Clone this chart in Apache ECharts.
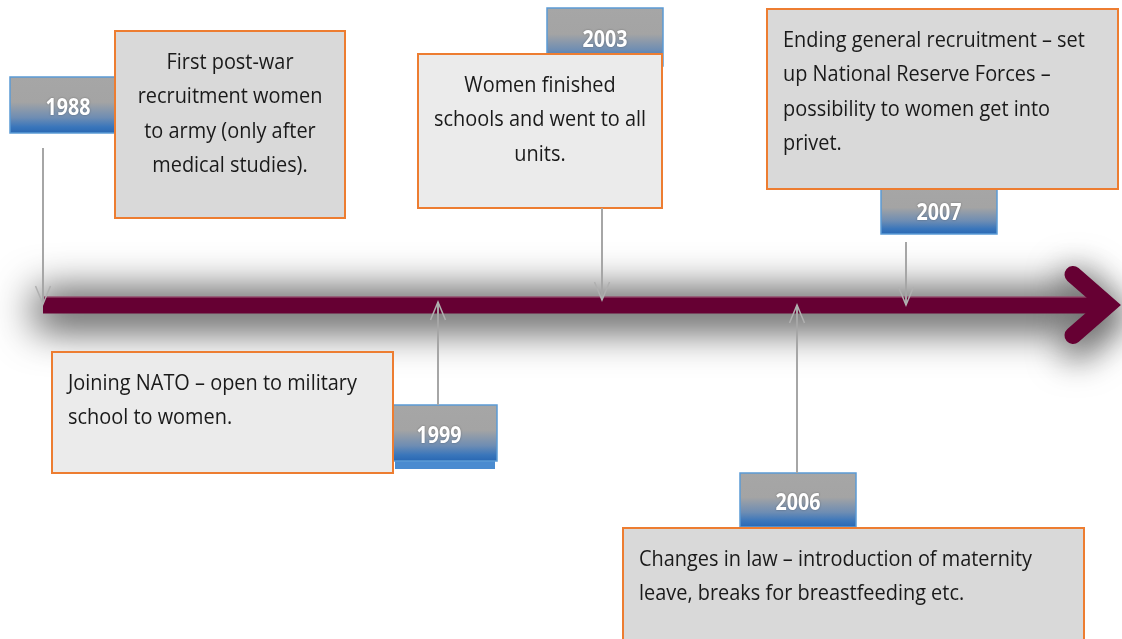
<!DOCTYPE html>
<html><head><meta charset="utf-8">
<script src="https://cdn.jsdelivr.net/npm/echarts@6/dist/echarts.min.js"></script>
<style>html,body{margin:0;padding:0;background:#fff}#main{width:1122px;height:639px}</style>
</head><body><div id="main"></div>
<script>
// ---- content ----
const years = ['1988', '1999', '2003', '2006', '2007'];
const events = [
  'First post-war\nrecruitment women\nto army (only after\nmedical studies).',
  'Joining NATO – open to military\nschool to women.',
  'Women finished\nschools and went to all\nunits.',
  'Changes in law – introduction of maternity\nleave, breaks for breastfeeding etc.',
  'Ending general recruitment – set\nup National Reserve Forces –\npossibility to women get into\nprivet.'
];
// ---- layout (canvas units, kept separate from content) ----
const markX = [43, 438, 602, 797, 906];
const yearBox = [[10, 77, 116, 56], [381, 405, 116, 56], [547, 8, 116, 58], [740, 473, 116, 54], [881, 186, 116, 48]];
const eventBox = [[115, 31, 230, 187], [52, 352, 341, 121], [418, 54, 244, 154], [623, 528, 461, 125], [767, 9, 351, 180]];
const eventAlign = ['center', 'left', 'center', 'left', 'left'];
const eventFill = ['#d9d9d9', '#ebebeb', '#ebebeb', '#d9d9d9', '#d9d9d9'];
const connector = [[148, 304], [405, 302], [208, 300], [473, 305], [242, 305]];
const timeline = { x0: 43, x1: 1095, y: 305, thick: 17, tipX: 1108, armDx: 35, armDy: 30.5 };

const FONT = '"Open Sans", "Noto Sans", sans-serif';
const EVENT_FONT = '22px ' + FONT;
const YEAR_FONT = 'bold 24px ' + FONT;
// horizontal condensing so the glyph widths follow the reference's narrow face
const mctx = document.createElement('canvas').getContext('2d');
function textW(font, s) { mctx.font = font; return mctx.measureText(s).width; }
const eventSX = 393 / textW(EVENT_FONT, 'Changes in law – introduction of maternity');
const yearSX = 45 / textW(YEAR_FONT, '2003');

const chart = echarts.init(document.getElementById('main'), null, { renderer: 'canvas' });
const idx = years.map((y, i) => [markX[i], i]);

function P(api, x, y) { return api.coord([x, y]); }

const OFF = 2000; // shapes drawn off-canvas so that only their blurred shadow shows

const option = {
  animation: false,
  backgroundColor: '#ffffff',
  grid: { left: 0, right: 0, top: 0, bottom: 0 },
  xAxis: { type: 'value', min: 0, max: 1122, show: false },
  yAxis: { type: 'value', min: 0, max: 639, inverse: true, show: false },
  series: [
    {
      type: 'custom', z: 1, data: [[timeline.x0, 0]],
      renderItem: function (params, api) {
        const a = P(api, timeline.x0, timeline.y - timeline.thick / 2);
        const b = P(api, timeline.x1, timeline.y + timeline.thick / 2);
        const tip = P(api, timeline.tipX, timeline.y);
        const up = P(api, timeline.tipX - timeline.armDx, timeline.y - timeline.armDy);
        const dn = P(api, timeline.tipX - timeline.armDx, timeline.y + timeline.armDy);
        const sa = P(api, timeline.x0 - 8, timeline.y - 14);
        const sb = P(api, timeline.x1 - 10, timeline.y + 24);
        const shift = pts => pts.map(p => [p[0], p[1] + OFF]);
        return {
          type: 'group', children: [
            { type: 'rect', shape: { x: sa[0], y: sa[1] + OFF, width: sb[0] - sa[0], height: sb[1] - sa[1] },
              style: { fill: '#000', shadowBlur: 40, shadowColor: 'rgba(0,0,0,0.72)', shadowOffsetY: -OFF } },
            { type: 'polyline', shape: { points: shift([up, tip, dn]) },
              style: { stroke: '#000', lineWidth: timeline.thick + 12, lineCap: 'round', lineJoin: 'miter', fill: null,
                shadowBlur: 34, shadowColor: 'rgba(0,0,0,0.6)', shadowOffsetY: -OFF + 10, shadowOffsetX: 3 } },
            { type: 'rect', shape: { x: a[0], y: a[1], width: b[0] - a[0], height: b[1] - a[1] },
              style: { fill: '#660033' } },
            { type: 'line', shape: { x1: a[0], y1: a[1] + 0.5, x2: b[0], y2: a[1] + 0.5 },
              style: { stroke: 'rgba(190,140,160,0.7)', lineWidth: 1 } },
            { type: 'polyline', shape: { points: [up, tip, dn] },
              style: { stroke: '#660033', lineWidth: timeline.thick, lineCap: 'round', lineJoin: 'miter', miterLimit: 10, fill: null } }
          ]
        };
      }
    },
    {
      type: 'custom', z: 2, data: idx,
      renderItem: function (params, api) {
        const i = api.value(1);
        const bx = yearBox[i];
        const p = P(api, bx[0], bx[1]);
        const grad = { type: 'linear', x: 0, y: 0, x2: 0, y2: 1, colorStops: [
          { offset: 0, color: '#a6a6a6' }, { offset: 0.45, color: '#a4a4a4' },
          { offset: 0.72, color: '#6e8db3' }, { offset: 0.88, color: '#3a76bb' }, { offset: 1, color: '#2766b2' } ] };
        const kids = [];
        if (years[i] === '1999') {
          kids.push({ type: 'rect', shape: { x: p[0] + 14, y: p[1] + 8, width: bx[2] - 16, height: bx[3] },
            style: { fill: '#4a8bd0' } });
        }
        kids.push({ type: 'rect', shape: { x: p[0], y: p[1], width: bx[2], height: bx[3] },
          style: { fill: grad, stroke: '#5b9bd5', lineWidth: 1.5 } });
        kids.push({ type: 'text', x: p[0] + bx[2] / 2, y: p[1] + bx[3] / 2 + 3, scaleX: yearSX,
          style: { text: years[i], x: 0, y: 0, align: 'center', verticalAlign: 'middle', fill: '#ffffff',
          font: YEAR_FONT, textShadowColor: 'rgba(0,0,0,0.35)', textShadowBlur: 2 } });
        return { type: 'group', children: kids };
      }
    },
    {
      type: 'custom', z: 3, data: idx,
      renderItem: function (params, api) {
        const i = api.value(1);
        const bx = eventBox[i];
        const p = P(api, bx[0], bx[1]);
        const tx = eventAlign[i] === 'center' ? p[0] + bx[2] / 2 : p[0] + 16;
        return { type: 'group', children: [
          { type: 'rect', shape: { x: p[0], y: p[1], width: bx[2], height: bx[3] },
            style: { fill: eventFill[i], stroke: '#ed7d31', lineWidth: 2 } },
          { type: 'text', x: tx, y: p[1] + 14, scaleX: eventSX,
            style: { text: events[i], x: 0, y: 0, align: eventAlign[i],
            verticalAlign: 'top', lineHeight: 34.5, fill: '#1a1a1a', font: EVENT_FONT } }
        ] };
      }
    },
    {
      type: 'custom', z: 4, data: idx,
      renderItem: function (params, api) {
        const i = api.value(1);
        const c = connector[i];
        const x = api.value(0);
        const s = P(api, x, c[0]);
        const t = P(api, x, c[1]);
        const dir = t[1] > s[1] ? 1 : -1;
        const hl = 18, hw = 7.5;
        const st = { stroke: '#a6a6a6', lineWidth: 2, fill: null };
        return { type: 'group', children: [
          { type: 'line', shape: { x1: s[0], y1: s[1], x2: t[0], y2: t[1] }, style: st },
          { type: 'polyline', shape: { points: [[t[0] - hw, t[1] - dir * hl], [t[0], t[1]], [t[0] + hw, t[1] - dir * hl]] },
            style: { stroke: '#b0b0b0', lineWidth: 1.5, fill: null } }
        ] };
      }
    }
  ]
};
chart.setOption(option);
</script>
</body></html>
